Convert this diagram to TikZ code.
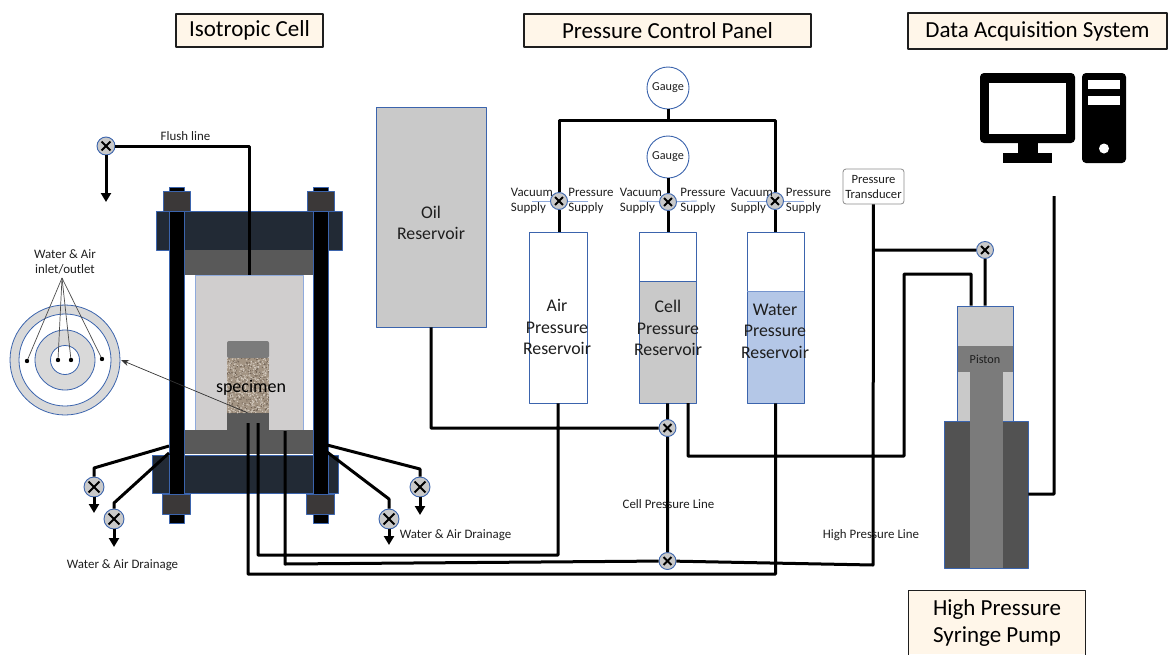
\documentclass[tikz,border=0pt]{standalone}
\usepackage{fontspec}
\setmainfont{Carlito}
\usetikzlibrary{arrows.meta}
\definecolor{navy}{HTML}{222A35}
\definecolor{edge}{HTML}{3B64AD}
\definecolor{lightedge}{HTML}{8FAADC}
\definecolor{capgray}{HTML}{595959}
\definecolor{cellgray}{HTML}{D0CECE}
\definecolor{nutgray}{HTML}{3B3838}
\definecolor{fluidgray}{HTML}{C9C9C9}
\definecolor{ringgray}{HTML}{D9D9D9}
\definecolor{waterblue}{HTML}{B4C7E7}
\definecolor{pistongray}{HTML}{7B7B7B}
\definecolor{barrelgray}{HTML}{525252}
\definecolor{cream}{HTML}{FFF6E9}
\definecolor{ink}{HTML}{1E1E1E}
\definecolor{grainbase}{HTML}{A39483}
\definecolor{grainlight}{HTML}{D6CDC2}
\definecolor{graindark}{HTML}{6E6053}
\tikzset{
  pipe/.style={line width=3pt},
  pipetip/.style={pipe,-{Triangle[length=9pt,width=10pt]}},
  valve/.style={circle,draw=edge,fill=fluidgray,line width=.9pt,inner sep=0pt,minimum size=#1,
    path picture={\draw[black,line width=2pt,shorten >=6.4pt,shorten <=6.4pt]
      (path picture bounding box.north west) -- (path picture bounding box.south east);
      \draw[black,line width=2pt,shorten >=6.4pt,shorten <=6.4pt]
      (path picture bounding box.north east) -- (path picture bounding box.south west);}},
  vessel/.style={rectangle,draw=edge,line width=.8pt,inner sep=0pt},
  gauge/.style={circle,draw=edge,fill=white,line width=.9pt,inner sep=0pt,minimum size=42pt,
    text=ink,font=\fontsize{12.2}{14}\selectfont},
  titlebox/.style={rectangle,draw=ink,line width=1.3pt,fill=cream,inner sep=0pt,text=black,
    align=center,font=\fontsize{23}{27}\selectfont},
  smalltext/.style={text=ink,align=left,inner sep=0pt,font=\fontsize{12.9}{15}\selectfont},
  restext/.style={text=ink,align=center,inner sep=0pt,font=\fontsize{17.8}{21.5}\selectfont}
}
\begin{document}
\begin{tikzpicture}[
    x=1pt,
    y=-1pt,
    line join=round
  ]
  \useasboundingbox (0,0) rectangle (1168,654);

  % titles
  \node[titlebox,minimum width=147pt,minimum height=33pt] (cellTitle) at (249.5,30.5) {Isotropic Cell};
  \node[titlebox,minimum width=287pt,minimum height=33pt] (panelTitle) at (667.5,30.5) {Pressure Control Panel};
  \node[titlebox,minimum width=259pt,minimum height=36pt] (dataTitle) at (1037.5,31) {Data Acquisition System};
  \node[titlebox,draw=none,minimum width=176pt,minimum height=63pt] (pumpTitle) at (997,622.5) {High Pressure\\Syringe Pump};
  \draw[ink,line width=1.3pt]
    (pumpTitle.south west) |- (pumpTitle.north east) -- (pumpTitle.south east);

  % isotropic cell
  \node[vessel,draw=lightedge,fill=cellgray,minimum width=108pt,minimum height=155pt] (cell) at (249,352.5) {};
  \node[vessel,fill=navy,minimum width=186pt,minimum height=39pt] (topPlate) at (249,230.5) {};
  \node[vessel,draw=none,fill=capgray,minimum width=130pt,minimum height=25pt] (topCap) at (249,262.5) {};
  \node[vessel,fill=navy,minimum width=186pt,minimum height=38pt] (botPlate) at (245,474) {};
  \node[vessel,draw=none,fill=capgray,minimum width=130pt,minimum height=24pt] (botCap) at (249,442) {};
  \node[vessel,draw=none,fill=capgray,minimum width=42pt,minimum height=18pt] (pedestal) at (248,422) {};
  \node[vessel,draw=none,fill=pistongray,rounded corners=2pt,minimum width=42pt,minimum height=17pt] (specCap) at (248,349.5) {};
  \node[vessel,draw=none,fill=grainbase,minimum width=42pt,minimum height=55pt] (sample) at (248,385.5) {};
  \begin{scope}
    \clip (227,358) rectangle (269,413);
    \pgfmathsetseed{42}
    \foreach \i in {1,...,420}
      \fill[grainlight] ({227+42*rnd},{358+55*rnd}) circle (.7);
    \foreach \i in {1,...,300}
      \fill[graindark] ({227+42*rnd},{358+55*rnd}) circle (.6);
  \end{scope}
  \node[text=black,inner sep=0pt,font=\fontsize{18}{20}\selectfont] (specimenText) at (251,388) {specimen};
  \draw[white,line width=1pt] (184,454.5) -- (313,454.5);

  % tie rods and nuts
  \foreach \x/\nm in {176.5/rodL,320.5/rodR} {
    \node[vessel,fill=black,minimum width=15pt,minimum height=336pt] (\nm) at (\x,355) {};
    \node[vessel,fill=nutgray,minimum width=27pt,minimum height=20pt] (\nm top) at (\x,201) {};
    \node[vessel,fill=nutgray,minimum width=28pt,minimum height=20pt] (\nm bot) at (\x,504) {};
  }

  % flush line
  \node[valve=18pt] (flushValve) at (106,146) {};
  \coordinate (flushIn) at (249,275);
  \coordinate (flushEnd) at (106,202);
  \node[smalltext] (flushText) at (185.5,136) {Flush line};
  \draw[pipe] (flushValve) -| (flushIn);
  \draw[pipetip] (flushValve) -- (flushEnd);

  % drainage
  \foreach \nm/\sx/\sy/\bx/\by/\vy/\ty in {
      drainA/169/446/94/468/487/513,
      drainB/169/453/114/503/519/547,
      drainC/327/445/420/469/487/515,
      drainD/327/452/389/499/519/545} {
    \node[valve=20pt] (\nm) at (\bx,\vy) {};
    \draw[pipe] (\sx,\sy) -- (\bx,\by) -- (\nm);
    \draw[pipetip] (\nm) -- (\bx,\ty);
  }
  \node[smalltext] (drainLeft) at (122.5,565) {Water \& Air Drainage};
  \node[smalltext] (drainRight) at (455.5,535) {Water \& Air Drainage};

  % cross section of the base
  \coordinate (ring) at (65,360);
  \foreach \r/\c in {55/ringgray,46/white,30/ringgray,14.5/white}
    \draw[edge,fill=\c,line width=.8pt] (ring) circle (\r);
  \node[smalltext,align=center] (inletText) at (65,262) {Water \& Air\\inlet/outlet};
  \coordinate (inletTip) at (62,278);
  \foreach \x/\y in {27/361,58/360,71/360,102/359} {
    \draw[black!70,line width=.7pt] (inletTip) -- (\x,\y);
    \fill[black] (\x,\y) circle (2.2);
  }
  \coordinate (ringEdge) at (121,360);
  \coordinate (baseMark) at (248,413);
  \draw[black!80,line width=.7pt,-{Stealth[length=8pt,width=6pt]}] (baseMark) -- (ringEdge);

  % reservoirs
  \node[vessel,fill=fluidgray,minimum width=110pt,minimum height=220pt] (oilRes) at (431,217) {};
  \node[restext] (oilText) at (431,223) {Oil\\Reservoir};
  \fill[fluidgray] (639,281) rectangle (696,403);
  \fill[waterblue] (747,291) rectangle (804,403);
  \node[vessel,minimum width=58pt,minimum height=171pt] (airRes) at (558,317.5) {};
  \node[vessel,minimum width=57pt,minimum height=171pt] (cellRes) at (667.5,317.5) {};
  \node[vessel,minimum width=57pt,minimum height=171pt] (waterRes) at (775.5,317.5) {};
  \draw[edge,line width=.8pt] (639,281) -- (696,281);
  \draw[lightedge!70!edge,line width=.8pt] (747,291) -- (804,291);
  \node[restext] (airText) at (557,327) {Air\\Pressure\\Reservoir};
  \node[restext] (cellText) at (668,328) {Cell\\Pressure\\Reservoir};
  \node[restext] (waterText) at (775,331) {Water\\Pressure\\Reservoir};

  % gauges and supply valves
  \node[gauge] (topGauge) at (668,88) {Gauge};
  \node[gauge] (cellGauge) at (668,157) {Gauge};
  \node[valve=17pt] (airValve) at (559,201) {};
  \node[valve=17pt] (cellValve) at (668,202) {};
  \node[valve=17pt] (waterValve) at (775,201) {};
  \foreach \v/\lx/\rx in {airValve/532/588,cellValve/639/697,waterValve/747/804} {
    \draw[lightedge,line width=.9pt] (\v) -- (\lx,201);
    \draw[lightedge,line width=.9pt] (\v) -- (\rx,201);
  }
  \foreach \nm/\vx/\px in {airS/532/591,cellS/641/703,waterS/752/808.5} {
    \node[smalltext] (\nm vac) at (\vx,201) {Vacuum\\Supply};
    \node[smalltext] (\nm pre) at (\px,201) {Pressure\\Supply};
  }
  \coordinate (gaugeTee) at (668,120);
  \draw[pipe]
    (airRes.north -| airValve) -- (airValve)
    (airValve) -- (559,120) -- (775,120) -- (waterValve)
    (waterValve) -- (waterRes.north -| waterValve)
    (topGauge) -- (gaugeTee)
    (cellGauge) -- (cellValve)
    (cellValve) -- (cellRes.north -| cellValve)
    ;

  % syringe pump
  \node[vessel,fill=fluidgray,minimum width=56pt,minimum height=115pt] (cylinder) at (985,363.5) {};
  \node[vessel,fill=barrelgray,minimum width=84pt,minimum height=147pt] (barrel) at (986,494.5) {};
  \node[vessel,draw=none,fill=pistongray,minimum width=55pt,minimum height=26pt,text=ink,
    font=\fontsize{12.2}{14}\selectfont] (piston) at (985,359) {Piston};
  \node[vessel,draw=none,fill=pistongray,minimum width=33pt,minimum height=196pt] (rod) at (986.5,470) {};
  \node[valve=17pt] (pumpValve) at (985,250) {};
  \node[rectangle,draw=black!45,fill=white,rounded corners=3pt,line width=.8pt,inner sep=0pt,
    minimum width=61pt,minimum height=35pt,align=center,text=ink,
    font=\fontsize{12.6}{15}\selectfont] (transducer) at (873.5,186.5) {Pressure\\Transducer};

  % lines of the panel
  \node[valve=17pt] (oilValve) at (667.5,428) {};
  \node[valve=17pt] (lineValve) at (667.5,561) {};
  \coordinate (pedA) at (248,423);
  \coordinate (pedB) at (258,423);
  \coordinate (baseC) at (285,431);
  \coordinate (cellOut) at (688,403);
  \coordinate (dataEnd) at (1054,196);
  \draw[pipe]
    (oilRes) |- (oilValve)
    (cellRes) -- (oilValve)
    (oilValve) -- (lineValve)
    (pedA) -- (248,574) -| (waterRes)
    (pedB) -- (258,555) -| (airRes)
    (baseC) -- (285,564) -- (lineValve)
    (lineValve) -- (873,565) -- (transducer)
    (cellOut) |- (904,456) -- (904,274) -| (cylinder.north -| 971,0)
    (transducer.south |- pumpValve) -- (pumpValve)
    (pumpValve) -- (cylinder.north -| pumpValve)
    (dataEnd) |- (barrel.east |- 0,494)
    ;
  \node[smalltext] (cellLine) at (668.5,504) {Cell Pressure Line};
  \node[smalltext] (highLine) at (871,535.5) {High Pressure Line};

  % computer
  \fill[black,rounded corners=4pt] (980,73) rectangle (1075,143);
  \fill[white] (989,83) rectangle (1066,134);
  \fill[black] (1018,143) rectangle (1038,155);
  \fill[black] (1003,153) rectangle (1052,163);
  \fill[black,rounded corners=4pt] (1082,73) rectangle (1126,163);
  \fill[white] (1088,80) rectangle (1120,89);
  \fill[white] (1088,96) rectangle (1120,105);
  \fill[white] (1104,148.5) circle (5);
\end{tikzpicture}
\end{document}
